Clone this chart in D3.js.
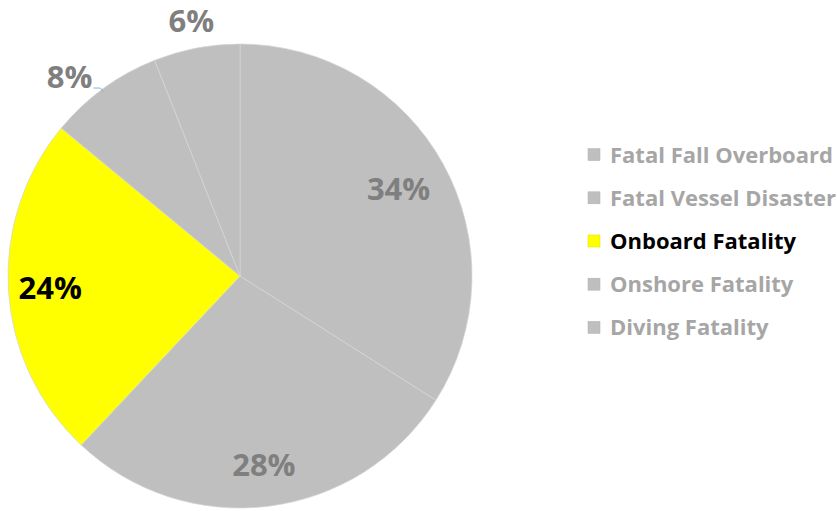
<!DOCTYPE html>
<html lang="en">
<head>
  <meta charset="UTF-8">
  <title>Fatalities</title>
  <script src="https://d3js.org/d3.v7.min.js"></script>
  <style>
    body { margin: 0; background: #fff; }
    text { font-family: "Open Sans", Lato, sans-serif; font-weight: bold; }
  </style>
</head>
<body>
  <svg id="chart" width="837" height="511"></svg>
  <script>
    const categories = ['Fatal Fall Overboard', 'Fatal Vessel Disaster', 'Onboard Fatality', 'Onshore Fatality', 'Diving Fatality'];
    const values = [34, 28, 24, 8, 6];
    const highlight = 'Onboard Fatality';

    const svg = d3.select('#chart');
    const cx = 240, cy = 276, r = 232;

    const data = categories.map((c, i) => ({ name: c, value: values[i] }));
    const fill = d => d.name === highlight ? '#ffff00' : '#bfbfbf';

    const pie = d3.pie().sort(null).value(d => d.value);
    const arcs = pie(data);
    const arc = d3.arc().innerRadius(0).outerRadius(r);

    const g = svg.append('g').attr('transform', `translate(${cx},${cy})`);

    g.selectAll('path')
      .data(arcs)
      .enter()
      .append('path')
      .attr('d', arc)
      .attr('fill', d => fill(d.data))
      .attr('stroke', '#d6d6d6')
      .attr('stroke-width', 0.7);

    // label placement: inside for big slices, outside for small ones
    const mid = d => (d.startAngle + d.endAngle) / 2;
    const labelInfo = d => {
      const a = mid(d);
      if (d.data.value >= 10) {
        const k = d.data.value < 30 ? 0.82 : 0.78;
        return { x: Math.sin(a) * r * k, y: Math.cos(a) * -r * k, anchor: 'middle' };
      }
      if (Math.abs(Math.sin(a)) > 0.4) {
        return { x: Math.sin(a) * r * 1.06 - 3, y: Math.cos(a) * -r * 1.06, anchor: Math.sin(a) < 0 ? 'end' : 'start' };
      }
      return { x: Math.sin(a) * r * 1.12, y: Math.cos(a) * -r * 1.12, anchor: 'middle' };
    };

    g.selectAll('.lbl')
      .data(arcs)
      .enter()
      .append('text')
      .attr('class', 'lbl')
      .attr('x', d => labelInfo(d).x)
      .attr('y', d => labelInfo(d).y)
      .attr('dy', '0.36em')
      .attr('text-anchor', d => labelInfo(d).anchor)
      .attr('font-size', 31)
      .attr('fill', d => d.data.name === highlight ? '#000' : '#7f7f7f')
      .text(d => d.data.value + '%');

    // small leader line next to the 8% label
    const small = labelInfo(arcs.find(d => d.data.name === 'Onshore Fatality'));
    g.append('path')
      .attr('d', `M${small.x + 1},${small.y + 11} L${small.x + 8},${small.y + 11} L${small.x + 11},${small.y + 15}`)
      .attr('fill', 'none')
      .attr('stroke', '#8fb0e0')
      .attr('stroke-width', 1);

    // legend
    const y = d3.scaleBand().domain(categories).range([133, 349]);
    const legend = svg.append('g');
    const item = legend.selectAll('g')
      .data(data)
      .enter()
      .append('g')
      .attr('transform', d => `translate(588,${y(d.name) + y.bandwidth() / 2})`);

    item.append('rect')
      .attr('x', 0)
      .attr('y', -6)
      .attr('width', 12)
      .attr('height', 12)
      .attr('fill', d => fill(d))
      .attr('stroke', d => d.name === highlight ? '#d9d900' : '#b0b0b0')
      .attr('stroke-width', 0.5);

    item.append('text')
      .attr('x', 22)
      .attr('dy', '0.36em')
      .attr('font-size', 22)
      .attr('fill', d => d.name === highlight ? '#000' : '#a6a6a6')
      .text(d => d.name);
  </script>
</body>
</html>
